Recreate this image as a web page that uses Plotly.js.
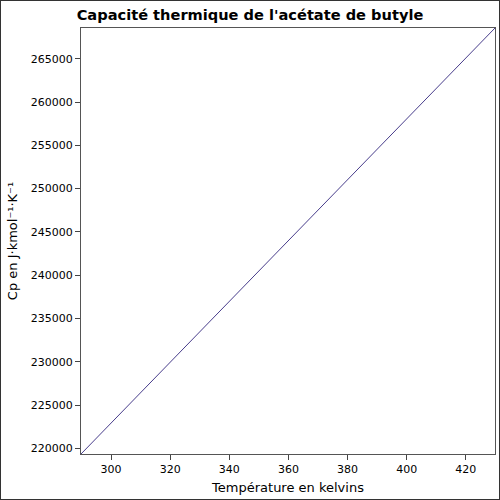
<!DOCTYPE html>
<html>
<head>
<meta charset="utf-8">
<script src="https://cdn.plot.ly/plotly-3.0.1.min.js"></script>
<style>
html, body { margin: 0; padding: 0; background: #fff; }
#plot { width: 498px; height: 498px; border: 1px solid #333; }
</style>
</head>
<body>
<div id="plot"></div>
<script>
const temperatures = [289.85, 360, 429.85];
const heatCapacity = [219340, 244000, 268550];
const chartTitle = "Capacité thermique de l'acétate de butyle";
const xTitle = "Température en kelvins";
const yTitle = "Cp en J·kmol⁻¹·K⁻¹";

const trace = {
  x: temperatures,
  y: heatCapacity,
  type: 'scatter',
  mode: 'lines',
  line: { color: '#483d8b', width: 1 },
  hoverinfo: 'skip'
};

const font = "DejaVu Sans, sans-serif";
const layout = {
  width: 498,
  height: 498,
  margin: { l: 80, r: 4, t: 27, b: 45 },
  paper_bgcolor: '#fff',
  plot_bgcolor: '#fff',
  showlegend: false,
  font: { family: font, color: '#000', size: 11 },
  title: {
    text: '<b>' + chartTitle + '</b>',
    font: { family: font, size: 14.6, color: '#000' },
    x: 0.5, xref: 'container', xanchor: 'center',
    y: 0.972, yref: 'container', yanchor: 'middle'
  },
  xaxis: {
    range: [temperatures[0], temperatures[temperatures.length - 1]],
    tick0: 300, dtick: 20,
    ticks: 'outside', ticklen: 5, tickcolor: '#444',
    showgrid: false, zeroline: false,
    showline: true, linecolor: '#555', linewidth: 1, mirror: true,
    tickfont: { family: font, size: 11, color: '#000' },
    title: { text: xTitle, font: { family: font, size: 13, color: '#000' }, standoff: 7 }
  },
  yaxis: {
    range: [heatCapacity[0], heatCapacity[heatCapacity.length - 1]],
    tick0: 220000, dtick: 5000, tickformat: 'd',
    ticks: 'outside', ticklen: 5, tickcolor: '#444',
    showgrid: false, zeroline: false,
    showline: true, linecolor: '#555', linewidth: 1, mirror: true,
    tickfont: { family: font, size: 11, color: '#000' },
    title: { text: yTitle, font: { family: font, size: 13, color: '#000' }, standoff: 10 }
  }
};

Plotly.newPlot('plot', [trace], layout, { displayModeBar: false, staticPlot: true });
</script>
</body>
</html>
